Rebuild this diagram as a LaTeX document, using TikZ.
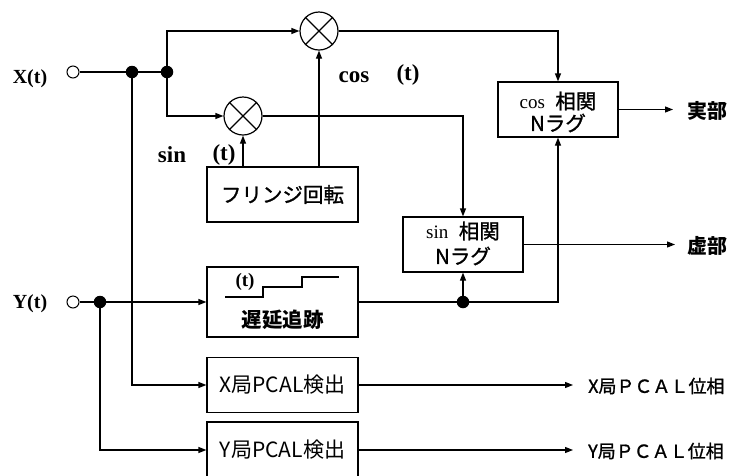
\documentclass[tikz,border=0pt]{standalone}
\usepackage{fontspec}
\setmainfont{Liberation Serif}
\newfontfamily\jp{Noto Sans CJK JP}
\newfontfamily\jpm[FakeBold=1.2]{Noto Sans CJK JP}
\usetikzlibrary{arrows.meta}
\tikzset{
  ln/.style={line width=1.2pt},
  arr/.style={ln, -{Triangle[length=8pt,width=6pt]}},
  box/.style={draw, ln, inner sep=0pt, align=center, font=\jpm\fontsize{20.5}{24}\selectfont},
  jdot/.style={circle, fill, inner sep=0pt, minimum size=12.5pt},
  opn/.style={circle, draw, fill=white, line width=1pt, inner sep=0pt, minimum size=12pt},
  mult/.style={circle, draw, ln, inner sep=0pt, minimum size=38pt},
  sig/.style={font=\bfseries\fontsize{20}{24}\selectfont, inner sep=0pt},
  lab/.style={font=\bfseries\fontsize{23}{26}\selectfont, inner sep=0pt},
  outj/.style={font=\jp\bfseries\fontsize{20}{24}\selectfont, inner sep=0pt, anchor=west},
  outp/.style={font=\jpm\fontsize{18}{22}\selectfont, inner sep=0pt, anchor=west},
}
\begin{document}
\begin{tikzpicture}[x=1pt,y=-1pt]
\useasboundingbox (0,0) rectangle (739,475);
\clip (0,0) rectangle (739,475);
% inputs
\node[sig] (xl) at (30,79) {X(t)};
\node[sig] (yl) at (30,304) {Y(t)};
\node[opn] (xin) at (73,72) {};
\node[opn] (yin) at (73,302) {};
\node[jdot] (dx1) at (132,72) {};
\node[jdot] (dx2) at (167,72) {};
\node[jdot] (dy) at (100,302) {};
% multipliers
\node[mult] (m1) at (319,31) {};
\node[mult] (m2) at (243,116) {};
\draw[ln] (m1.north west) -- (m1.south east) (m1.north east) -- (m1.south west);
\draw[ln] (m2.north west) -- (m2.south east) (m2.north east) -- (m2.south west);
% boxes
\node[box, minimum width=151pt, minimum height=55pt] (fr) at (282.5,194.5) {フリンジ回転};
\node[box, minimum width=120pt, minimum height=55pt] (cosb) at (558,109.5) {};
\node[box, minimum width=120pt, minimum height=55pt] (sinb) at (463,244.5) {};
\node[box, minimum width=151pt, minimum height=70pt] (dl) at (282.5,302) {};
\node[box, font=\jp\fontsize{21}{24}\selectfont, minimum width=151pt, minimum height=55pt] (xp) at (282.5,385) {X局PCAL検出};
\node[box, font=\jp\fontsize{21}{24}\selectfont, minimum width=151pt, minimum height=56pt] (yp) at (282.5,450) {Y局PCAL検出};
% box texts
\node[inner sep=0pt] (cost) at (558,101) {\fontsize{19}{22}\selectfont cos\hspace{0.55em}{\jpm\fontsize{20.5}{24}\selectfont 相関}};
\node[inner sep=0pt] (cosn) at (558,123) {\jpm\fontsize{20.5}{24}\selectfont Nラグ};
\node[inner sep=0pt] (sint) at (463,231) {\fontsize{19}{22}\selectfont sin\hspace{0.55em}{\jpm\fontsize{20.5}{24}\selectfont 相関}};
\node[inner sep=0pt] (sinn) at (463,256) {\jpm\fontsize{20.5}{24}\selectfont Nラグ};
\node[inner sep=0pt] (dlt) at (282.5,320) {\jp\bfseries\fontsize{20.5}{24}\selectfont 遅延追跡};
\node[sig, font=\bfseries\fontsize{19}{22}\selectfont] (dlp) at (245,282) {(t)};
\draw[ln] (225,297) -- (263,297) -- (263,287) -- (302,287) -- (302,277) -- (339,277);
% labels
\node[lab] (sinl) at (172,155) {sin};
\node[lab] (sinp) at (224,155) {(t)};
\node[lab] (cosl) at (354,77) {cos};
\node[lab] (cosp) at (408,75) {(t)};
% connectors
\draw[ln] (xin) -- (dx1) -- (dx2);
\draw[arr] (dx2.center) |- (m1);
\draw[arr] (dx2.center) |- (m2);
\draw[arr] (m1) -| (cosb.north);
\draw[arr] (m2) -| (sinb.north);
\draw[arr] (fr.north -| m2) -- (m2);
\draw[arr] (fr.north -| m1) -- (m1);
\draw[arr] (dx1.center) |- (xp.west);
\draw[ln] (yin) -- (dy);
\draw[arr] (dy) -- (dl.west);
\draw[arr] (dy.center) |- (yp.west);
\node[jdot] (dd) at (463,302) {};
\coordinate (cr) at (558,302);
\draw[ln] (dl.east) -- (dd);
\draw[arr] (dd.center) -- (sinb.south);
\draw[arr] (dd.center) -- (cr) -- (cosb.south);
% outputs
\coordinate (reo) at (673,109.5);
\coordinate (imo) at (675,244.5);
\coordinate (xpo) at (573,385);
\coordinate (ypo) at (573,450);
\draw[arr] (cosb.east) -- (reo);
\draw[arr] (sinb.east) -- (imo);
\draw[arr] (xp.east) -- (xpo);
\draw[arr] (yp.east) -- (ypo);
\node[outj] (re) at (687,111) {実部};
\node[outj] (im) at (687,246) {虚部};
\node[outp] (xpt) at (588,386) {X局ＰＣＡＬ位相};
\node[outp] (ypt) at (588,451) {Y局ＰＣＡＬ位相};
\end{tikzpicture}
\end{document}
